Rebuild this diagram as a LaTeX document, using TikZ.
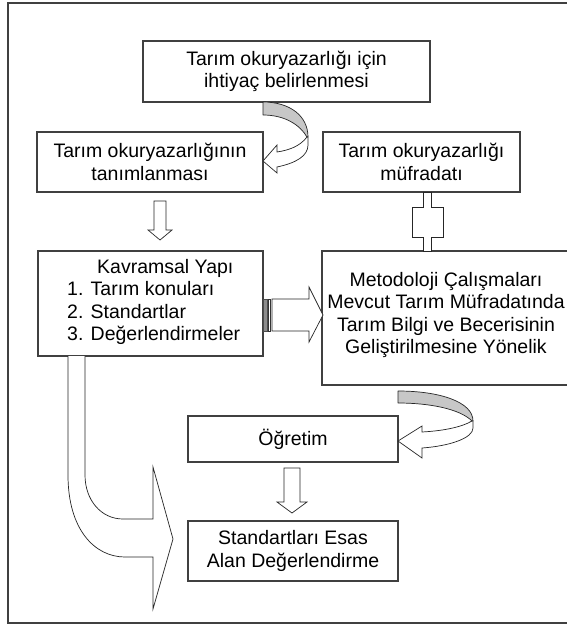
\documentclass[tikz,border=0pt]{standalone}
\usepackage{fontspec}
\setmainfont{Liberation Sans}
\begin{document}
\begin{tikzpicture}[x=1pt,y=-1pt,
  box/.style={draw=black!75, line width=1.1pt, fill=white, inner sep=0pt, align=center,
    text=black, font=\fontsize{19.5}{22.5}\selectfont},
  txt/.style={inner sep=0pt, text=black, font=\fontsize{19.5}{22.5}\selectfont},
  barrow/.style={draw=black!85, line width=0.7pt, fill=white, line join=miter},
  backface/.style={draw=black!85, line width=0.7pt, fill=black!22, line join=round},
  frame/.style={draw=black!75, line width=1.3pt}]
\useasboundingbox (0,0) rectangle (566,626);
\fill[white] (0,0) rectangle (566,626);
% outer frame (open on the right)
\draw[frame] (580,3) -- (8,3) -- (8,623) -- (580,623);

% boxes
\node[box, minimum width=287, minimum height=61] (b1) at (286.5,71.5)
  {Tarım okuryazarlığı için\\ihtiyaç belirlenmesi};
\node[box, minimum width=226, minimum height=60] (b2) at (150,162)
  {Tarım okuryazarlığının\\tanımlanması};
\node[box, minimum width=197, minimum height=60] (b3) at (421.5,162)
  {Tarım okuryazarlığı\\müfradatı};
\node[box, minimum width=225, minimum height=105] (b4) at (150.5,303.5) {};
\node[txt, align=left, anchor=west] (b4t) at (67,302)
  {\hspace*{30pt}Kavramsal Yapı\\1. Tarım konuları\\2. Standartlar\\3. Değerlendirmeler};
\node[box, minimum width=248, minimum height=134] (b5) at (446,318) {};
\node[txt, align=center] (b5t) at (446,315)
  {Metodoloji Çalışmaları\\Mevcut Tarım Müfradatında\\Tarım Bilgi ve Becerisinin\\Geliştirilmesine Yönelik};
\node[box, minimum width=210, minimum height=46] (b6) at (293,439) {Öğretim};
\node[box, minimum width=210, minimum height=60] (b7) at (293,551)
  {Standartları Esas\\Alan Değerlendirme};

% curved arrow b1 -> b2
\draw[backface] (263,102) .. controls (290,102) and (308,116) .. (308,137)
  -- (307,137) .. controls (300,125) and (285,115) .. (263,115) -- cycle;
\draw[barrow] (307,137) .. controls (300,146) and (290,150) .. (277,152)
  -- (277,145) -- (263,161) -- (277,173) -- (277,167)
  .. controls (296,163) and (308,156) .. (308,145) -- (308,137) -- cycle;

% down arrow b2 -> b4
\draw[barrow] (154,201) -- (166,201) -- (166,230) -- (172,230) -- (160,240)
  -- (148,230) -- (154,230) -- cycle;

% connector b3 -- b5
\draw[barrow] (423,192) -- (423,207) -- (412,207) -- (412,237) -- (423,237) -- (423,251)
  -- (431,251) -- (431,237) -- (443,237) -- (443,207) -- (431,207) -- (431,192) -- cycle;

% striped right arrow b4 -> b5
\draw[draw=black!70, fill=black!45, line width=0.5pt] (263.5,299) rectangle (267,331);
\draw[draw=black!80, fill=white, line width=0.6pt] (268,299) rectangle (270.5,331);
\draw[barrow] (272,299) -- (309,299) -- (309,287) -- (323,315) -- (309,342)
  -- (309,331) -- (272,331) -- cycle;

% curved arrow b5 -> b6
\draw[backface] (398,391) .. controls (440,391) and (473,402) .. (473,421)
  -- (472,421) .. controls (460,409) and (430,403) .. (398,403) -- cycle;
\draw[barrow] (472,421) .. controls (460,428) and (440,431) .. (422,432)
  -- (422,426) -- (398,441) -- (422,458) -- (422,448)
  .. controls (450,446) and (473,438) .. (473,428) -- (473,421) -- cycle;

% down arrow b6 -> b7
\draw[barrow] (284,468) -- (300,468) -- (300,502) -- (307,502) -- (292,513)
  -- (277,502) -- (284,502) -- cycle;

% big bent arrow b4 -> b7
\draw[barrow] (68,356) -- (68,475) .. controls (68,530) and (95,557) .. (125,557)
  -- (153,557) -- (153,609) -- (173,539) -- (153,467) -- (153,519) -- (123,519)
  .. controls (101,519) and (85,500) .. (85,475) -- (85,356);
\end{tikzpicture}
\end{document}
